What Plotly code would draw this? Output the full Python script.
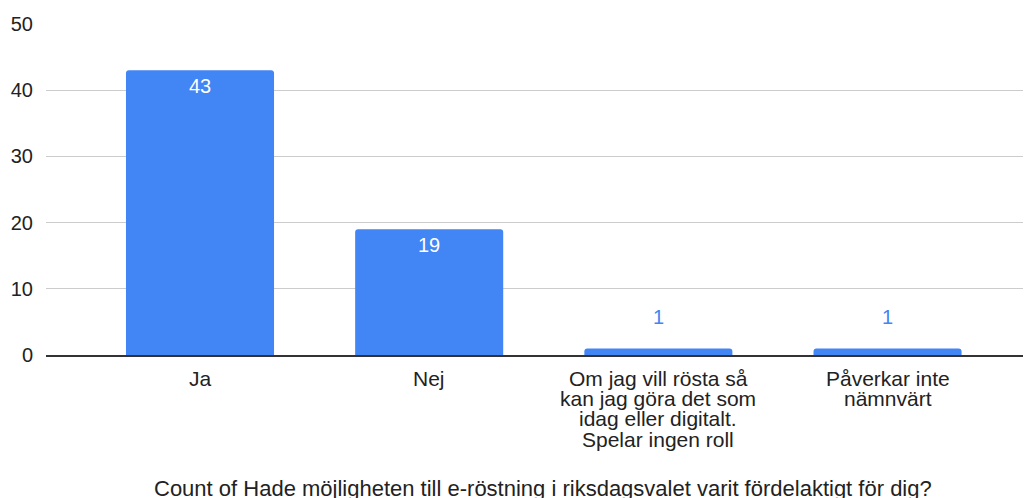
import plotly.graph_objects as go

categories = ["Ja", "Nej", "Om jag vill rösta så kan jag göra det som idag eller digitalt. Spelar ingen roll", "Påverkar inte nämnvärt"]
label_lines = [
    ["Ja"],
    ["Nej"],
    ["Om jag vill rösta så", "kan jag göra det som", "idag eller digitalt.", "Spelar ingen roll"],
    ["Påverkar inte", "nämnvärt"],
]
counts = [43, 19, 1, 1]
y_ticks = [0, 10, 20, 30, 40, 50]
x_title = "Count of Hade möjligheten till e-röstning i riksdagsvalet varit fördelaktigt för dig?"

BLUE = "#4285F4"
TEXT = "#222222"
FONT = "Liberation Sans, Arial, sans-serif"

fig = go.Figure()
fig.add_trace(go.Bar(
    x=list(range(len(categories))),
    y=counts,
    marker=dict(color=BLUE, line=dict(width=0)),
    hovertext=categories,
    showlegend=False,
))

annotations = []
# value labels
for i, v in enumerate(counts):
    inside = v >= 5
    annotations.append(dict(
        x=i, y=v, xref="x", yref="y", text=str(v), showarrow=False,
        yanchor="middle", yshift=-16 if inside else 31,
        font=dict(family=FONT, size=20, color="white" if inside else BLUE),
    ))
# category labels (wrapped, tight line spacing as in the reference)
for i, lines in enumerate(label_lines):
    for k, line in enumerate(lines):
        annotations.append(dict(
            x=i, xref="x", y=0, yref="paper", yanchor="middle",
            yshift=-23 - 20.4 * k, text=line, showarrow=False, borderpad=0,
            font=dict(family=FONT, size=21, color=TEXT),
        ))
# axis title
annotations.append(dict(
    x=0.5, xref="paper", y=0, yref="paper", yanchor="middle",
    yshift=-133, xshift=4,
    text=x_title, showarrow=False, borderpad=0,
    font=dict(family=FONT, size=22, color=TEXT),
))

fig.update_layout(
    width=1023, height=490,
    margin=dict(l=38, r=0, t=16, b=143),
    paper_bgcolor="white", plot_bgcolor="white",
    bargap=0.354,
    barcornerradius=3,
    font=dict(family=FONT, size=20, color=TEXT),
    annotations=annotations,
    xaxis=dict(
        range=[-0.672, 3.626],
        tickmode="array", tickvals=list(range(len(categories))), showticklabels=False,
        showgrid=False, showline=True, linecolor="#333333", linewidth=1.5,
        ticks="", zeroline=False,
    ),
    yaxis=dict(
        range=[0, 50], tickmode="array", tickvals=y_ticks,
        showgrid=True, gridcolor="#cccccc", gridwidth=1,
        zeroline=False, showline=False, ticks="", ticklabelstandoff=12,
        tickfont=dict(family=FONT, size=20, color=TEXT),
    ),
)

fig.write_html("out.html")
